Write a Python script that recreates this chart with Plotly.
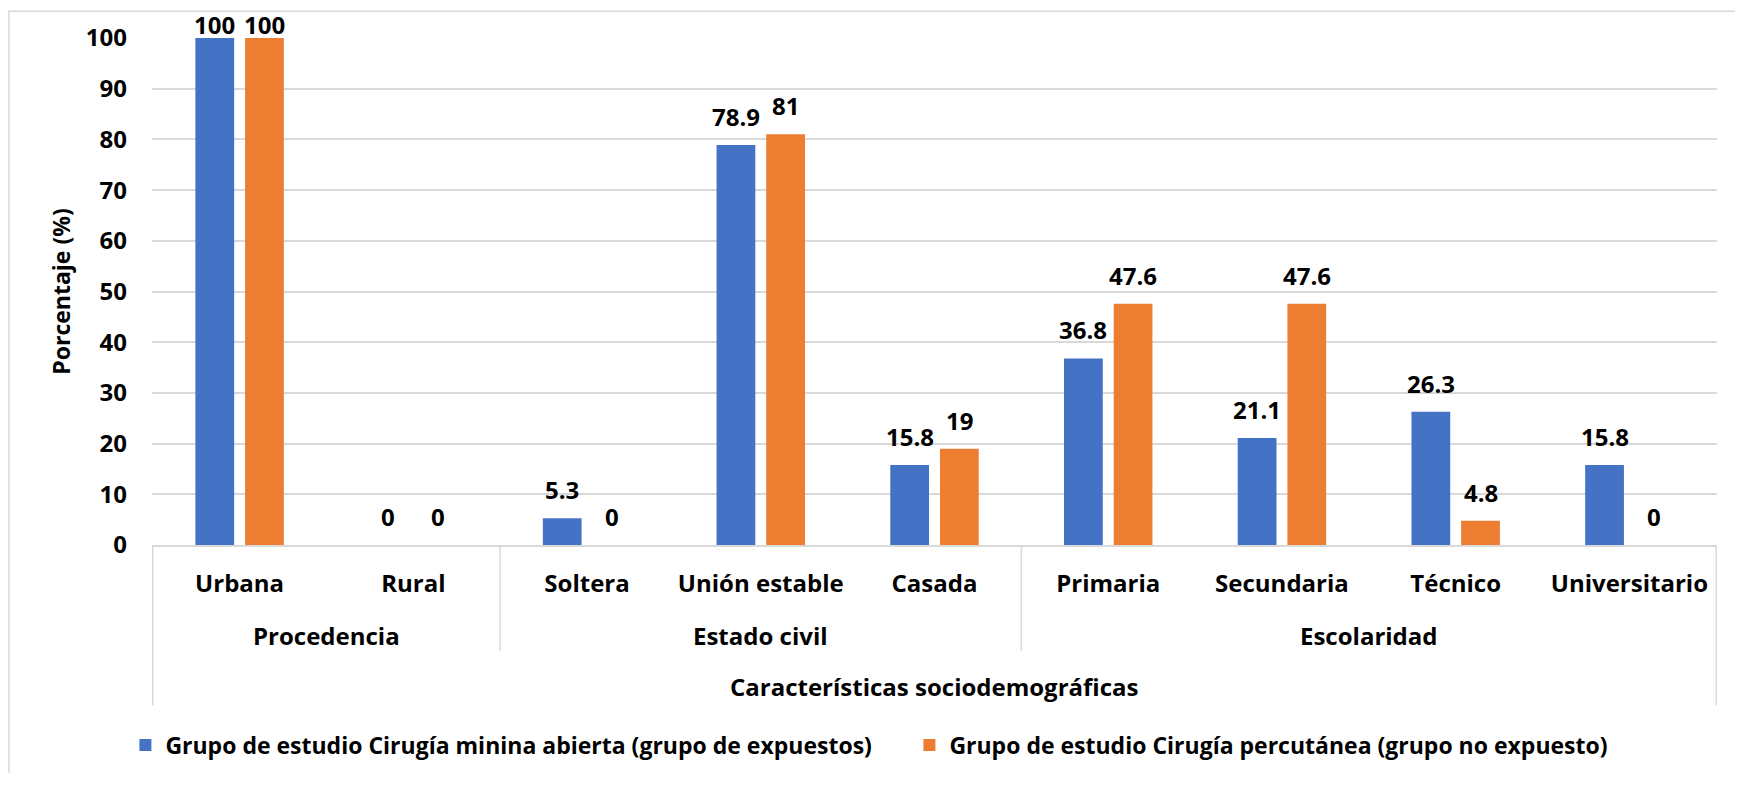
import plotly.graph_objects as go

# ---------------------------------------------------------------------------
# Data
# ---------------------------------------------------------------------------
categorias = ["Urbana", "Rural", "Soltera", "Unión estable", "Casada",
              "Primaria", "Secundaria", "Técnico", "Universitario"]
grupos = ["Procedencia", "Estado civil", "Escolaridad"]
grupo_tamano = [2, 3, 4]

expuestos = [100, 0, 5.3, 78.9, 15.8, 36.8, 21.1, 26.3, 15.8]
no_expuestos = [100, 0, 0, 81, 19, 47.6, 47.6, 4.8, 0]

nombre_expuestos = "Grupo de estudio Cirugía minina abierta (grupo de expuestos)"
nombre_no_expuestos = "Grupo de estudio Cirugía percutánea (grupo no expuesto)"

y_ticks = list(range(0, 101, 10))

# ---------------------------------------------------------------------------
# Style / geometry (page body has an 8px margin)
# ---------------------------------------------------------------------------
FONT = "Open Sans, Lato, sans-serif"
BLUE = "#4472C4"
ORANGE = "#ED7D31"
GRID = "#d9d9d9"

W, H = 1727, 770
M_L, M_R, M_T, M_B = 144, 18, 28, 230
PLOT_W = W - M_L - M_R
PLOT_H = H - M_T - M_B
CAT_W = PLOT_W / len(categorias)
BARGAP = 0.428
SLOT = (1 - BARGAP) * CAT_W / 2
LABEL_H = 33


def py(px_below_axis):
    """pixels below the x axis -> paper y"""
    return -px_below_axis / PLOT_H


def bold(size):
    return dict(size=size, color="black", family=FONT, weight="bold")


fig = go.Figure()
fig.add_trace(go.Bar(x=categorias, y=expuestos, name=nombre_expuestos,
                     marker=dict(color=BLUE, line_width=0)))
fig.add_trace(go.Bar(x=categorias, y=no_expuestos, name=nombre_no_expuestos,
                     marker=dict(color=ORANGE, line_width=0)))

# data labels above each bar, kept inside the chart area like Excel does
for vals, shift in [(expuestos, -SLOT / 2), (no_expuestos, SLOT / 2)]:
    for cat, v in zip(categorias, vals):
        headroom = (100 - v) / 100 * PLOT_H + M_T
        fig.add_annotation(x=cat, y=v, text=f"{v:g}", showarrow=False,
                           xshift=shift, yshift=min(10, headroom - LABEL_H),
                           yanchor="bottom", font=bold(24))

# group labels and separators of the multi-level axis
start = 0
bounds = [-0.5]
for g, n in zip(grupos, grupo_tamano):
    fig.add_annotation(x=start + (n - 1) / 2, y=py(91), xref="x", yref="paper",
                       text=g, showarrow=False, yanchor="middle", font=bold(24))
    start += n
    bounds.append(start - 0.5)

for i, b in enumerate(bounds):
    outer = i in (0, len(bounds) - 1)
    fig.add_shape(type="line", xref="x", yref="paper", x0=b, x1=b,
                  y0=0, y1=py(162 if outer else 107),
                  line=dict(color=GRID, width=1.5))

fig.add_annotation(x=0.5, y=py(143), xref="paper", yref="paper",
                   text="Características sociodemográficas", showarrow=False,
                   yanchor="middle", font=bold(24))

# outer chart border (left and top edges)
bx = (1 - M_L) / PLOT_W
fig.add_shape(type="line", xref="paper", yref="paper", x0=bx, x1=bx,
              y0=1 + M_T / PLOT_H, y1=-M_B / PLOT_H, line=dict(color=GRID, width=1.5))
fig.add_shape(type="line", xref="paper", yref="paper", x0=bx, x1=1 + M_R / PLOT_W,
              y0=1 + (M_T - 1) / PLOT_H, y1=1 + (M_T - 1) / PLOT_H,
              line=dict(color=GRID, width=1.5))

fig.update_layout(
    width=W, height=H,
    margin=dict(l=M_L, r=M_R, t=M_T, b=M_B),
    paper_bgcolor="white", plot_bgcolor="white",
    font=dict(family=FONT, color="black", size=24, weight="bold"),
    barmode="group", bargap=BARGAP, bargroupgap=0.22,
    showlegend=True,
    legend=dict(orientation="h", x=-0.017, xanchor="left", y=py(202), yanchor="middle",
                font=bold(23), itemclick=False, traceorder="normal",
                entrywidthmode="pixels", entrywidth=739),
)
fig.update_xaxes(
    type="category", categoryorder="array", categoryarray=categorias,
    showgrid=False, showline=True, linecolor=GRID, linewidth=1.5,
    ticks="", ticklabelstandoff=16, tickfont=bold(24),
)
fig.update_yaxes(
    range=[0, 100], tickvals=y_ticks, showgrid=True, gridcolor=GRID, gridwidth=1.5,
    zeroline=False, showline=False, ticks="", ticklabelstandoff=24,
    tickfont=bold(24),
    title=dict(text="Porcentaje (%)", standoff=8, font=bold(23)),
)

fig.write_html("out.html")
